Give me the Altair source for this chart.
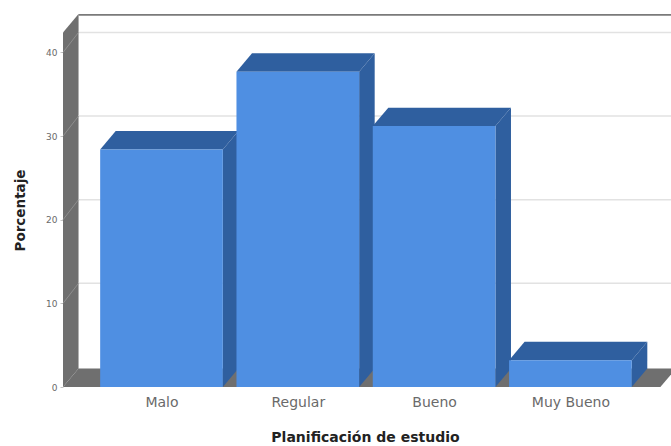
import json
import altair as alt
import pandas as pd

categories = ["Malo", "Regular", "Bueno", "Muy Bueno"]
porcentaje = [28.4, 37.7, 31.2, 3.2]
y_ticks = [0, 10, 20, 30, 40]
grid_levels = [10, 20, 30, 40]

# Axis extents and the oblique depth of the pseudo-3D box, in data units
X_MIN, X_MAX = -0.7227, 3.738
Y_MAX = 44.6
HALF_BAR = 0.45
DX, DY = 0.114, 2.2
GRID_LIFT = 2.4
FRONT = "#4f8fe2"
DARK = "#2f5f9f"
WALL = "#6f6f6f"
TEXT_FONT = "DejaVu Sans"

x_scale = alt.Scale(domain=[X_MIN, X_MAX], nice=False, zero=False)
y_scale = alt.Scale(domain=[0, Y_MAX], nice=False, zero=False)

label_expr = "%s[datum.value]" % json.dumps(categories)

# Every layer shares these two axis definitions
x_axis = alt.Axis(
    values=list(range(len(categories))),
    labelExpr=label_expr,
    title="Planificación de estudio",
    ticks=False,
    domain=False,
    grid=False,
    labelFontSize=14,
    labelColor="#6a6a6a",
    labelFont=TEXT_FONT,
    labelPadding=8,
    titleFont=TEXT_FONT,
    titleFontSize=14,
    titleFontWeight="bold",
    titleColor="#222222",
    titlePadding=21,
    titleX=302,
)
y_axis = alt.Axis(
    values=y_ticks,
    title="Porcentaje",
    tickSize=3,
    tickColor="#c4c4c4",
    domain=False,
    grid=False,
    labelFontSize=9,
    labelColor="#6a6a6a",
    labelFont=TEXT_FONT,
    labelPadding=3,
    titleFont=TEXT_FONT,
    titleFontSize=13.5,
    titleFontWeight="bold",
    titleColor="#222222",
    titlePadding=18,
    titleY=196,
)


def enc_x(field):
    return alt.X(field, scale=x_scale, axis=x_axis)


def enc_y(field):
    return alt.Y(field, scale=y_scale, axis=y_axis)


def side_rows(key, left, low, high):
    """Vertical parallelogram that recedes from x=left, spanning low..high."""
    return [
        {"k": key, "x": left, "y": high, "y2": low},
        {"k": key, "x": left + DX, "y": high + DY, "y2": low + DY},
    ]


def top_rows(key, left, right, level):
    """Horizontal parallelogram that recedes from the edge left..right at level."""
    return [
        {"k": key, "x": left, "y": level, "y2": level},
        {"k": key, "x": left + DX, "y": level + DY, "y2": level},
        {"k": key, "x": right, "y": level + DY, "y2": level},
        {"k": key, "x": right + DX, "y": level + DY, "y2": level + DY},
    ]


def area(rows, colour):
    return (
        alt.Chart(pd.DataFrame(rows))
        .mark_area(color=colour, interpolate="linear", clip=True)
        .encode(x=enc_x("x:Q"), y=enc_y("y:Q"), y2="y2:Q", detail="k:N")
    )


def hrule(frame, colour, width):
    return (
        alt.Chart(frame)
        .mark_rule(color=colour, strokeWidth=width, clip=True)
        .encode(x=enc_x("a:Q"), x2="b:Q", y=enc_y("nivel:Q"))
    )


bars = pd.DataFrame(
    {
        "i": list(range(len(categories))),
        "categoria": categories,
        "valor": porcentaje,
    }
)
bars["x0"] = bars["i"] - HALF_BAR
bars["x1"] = bars["i"] + HALF_BAR
bars["base"] = 0

side_faces, top_faces = [], []
for row in bars.itertuples():
    side_faces += side_rows(row.categoria, row.x1, 0, row.valor)
    top_faces += top_rows(row.categoria, row.x0, row.x1, row.valor)

# Box: left wall and floor
wall = area(side_rows("pared", X_MIN, 0, Y_MAX - DY), WALL)
floor = area(top_rows("suelo", X_MIN, 3.66, 0), WALL)

# Light rules on the back wall, with their slanted continuation on the left wall
grid_df = pd.DataFrame({"nivel": [v + GRID_LIFT for v in grid_levels]})
grid_df["a"] = X_MIN + DX
grid_df["b"] = X_MAX
grid = hrule(grid_df, "#e2e2e2", 1.5)

slant_rows = []
for level in grid_levels:
    slant_rows += [
        {"k": level, "x": X_MIN, "y": level},
        {"k": level, "x": X_MIN + DX, "y": level + GRID_LIFT},
    ]
slants = (
    alt.Chart(pd.DataFrame(slant_rows))
    .mark_line(color="#8e8e8e", strokeWidth=1)
    .encode(x=enc_x("x:Q"), y=enc_y("y:Q"), detail="k:N")
)

# Upper edge of the back wall
top_edge = hrule(
    pd.DataFrame({"nivel": [Y_MAX - 0.1], "a": [X_MIN + DX], "b": [X_MAX]}),
    "#7a7a7a",
    2,
)

front = (
    alt.Chart(bars)
    .mark_bar(color=FRONT)
    .encode(x=enc_x("x0:Q"), x2="x1:Q", y=enc_y("valor:Q"), y2="base:Q")
)

chart = (
    alt.layer(
        wall,
        floor,
        grid,
        slants,
        top_edge,
        area(side_faces, DARK),
        area(top_faces, DARK),
        front,
    )
    .properties(
        width=608,
        height=373,
        padding={"left": 63, "top": 14, "right": 0, "bottom": 59},
        autosize=alt.AutoSizeParams(type="none"),
        background="white",
    )
    .configure_view(stroke=None)
)

chart.save("out.html", embed_options={"renderer": "svg", "actions": False})
